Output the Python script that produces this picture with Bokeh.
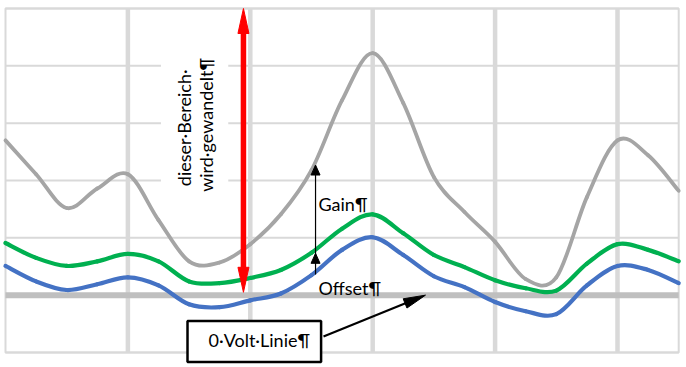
from bokeh.plotting import figure
from bokeh.models import Label, ColumnDataSource
from bokeh.embed import file_html
from bokeh.resources import INLINE

# ---------------- data ----------------
x_vals = [0.0, 0.25, 0.5, 0.75, 1.0, 1.25, 1.5, 1.75, 2.0, 2.25, 2.5, 2.75,
          3.0, 3.25, 3.5, 3.75, 4.0, 4.25, 4.5, 4.75, 5.0, 5.25, 5.5]
# amplified signal (gain applied)
gray_vals = [2.70, 2.11, 1.52, 1.86, 2.11, 1.31, 0.59, 0.57, 0.89, 1.41, 2.18, 3.40,
             4.22, 3.35, 2.06, 1.45, 0.93, 0.28, 0.31, 1.71, 2.70, 2.44, 1.82]
# signal with offset
green_vals = [0.91, 0.65, 0.51, 0.59, 0.72, 0.59, 0.24, 0.21, 0.30, 0.44, 0.74, 1.16,
              1.41, 1.08, 0.70, 0.49, 0.26, 0.12, 0.08, 0.55, 0.89, 0.79, 0.59]
# original signal
blue_vals = [0.51, 0.24, 0.09, 0.19, 0.31, 0.17, -0.16, -0.21, -0.09, 0.03, 0.35, 0.79,
             1.01, 0.70, 0.33, 0.14, -0.12, -0.28, -0.33, 0.17, 0.51, 0.44, 0.21]

x_grid_ticks = [1, 2, 3, 4, 5]
y_grid_ticks = [-1, 1, 2, 3, 4, 5]
x_min, x_max = 0.0, 5.5
y_min, y_max = -1.0, 5.0

text_range_l1 = "dieser\u00b7Bereich\u00b7"
text_range_l2 = "wird\u00b7gewandelt\u00b6"
text_gain = "Gain\u00b6"
text_offset = "Offset\u00b6"
text_zero = "0\u00b7Volt\u00b7Linie\u00b6"

# ---------------- layout constants ----------------
W, H = 686, 367
X_START, X_END = -0.0408, 5.5637
Y_START, Y_END = -1.2616, 5.1395
SX = W / (X_END - X_START)   # px per x unit
SY = H / (Y_END - Y_START)   # px per y unit

FONT = "Lato"
FS = "18px"
GRID = "#d9d9d9"

p = figure(width=W, height=H, x_range=(X_START, X_END), y_range=(Y_START, Y_END),
           output_backend="svg", toolbar_location=None,
           x_axis_location=None, y_axis_location=None,
           min_border_left=0, min_border_top=0, min_border_right=0, min_border_bottom=0)
p.background_fill_color = "white"
p.border_fill_color = "white"
p.outline_line_color = None
p.grid.visible = False

# grid lines
p.segment(x0=x_grid_ticks, y0=[y_min] * len(x_grid_ticks), x1=x_grid_ticks,
          y1=[y_max] * len(x_grid_ticks), line_color=GRID, line_width=4.5)
p.segment(x0=[x_min] * len(y_grid_ticks), y0=y_grid_ticks, x1=[x_max] * len(y_grid_ticks),
          y1=y_grid_ticks, line_color=GRID, line_width=2)
p.quad(left=[x_min], right=[x_max], bottom=[y_min], top=[y_max],
       fill_color=None, line_color=GRID, line_width=2)

# 0 volt line
p.segment(x0=[x_min], y0=[0], x1=[x_max], y1=[0], line_color="#bfbfbf", line_width=6)

# white text box behind rotated label
box_l, box_r, box_b, box_t = 1.27, 1.82, 1.35, 4.6
p.quad(left=[box_l], right=[box_r], bottom=[box_b], top=[box_t],
       fill_color="white", line_color=None)


def smooth(xs, ys):
    n = len(xs)
    d = {k: [] for k in ("x0", "y0", "x1", "y1", "cx0", "cy0", "cx1", "cy1")}
    for i in range(n - 1):
        a = max(i - 1, 0)
        b = min(i + 2, n - 1)
        d["x0"].append(xs[i]); d["y0"].append(ys[i])
        d["x1"].append(xs[i + 1]); d["y1"].append(ys[i + 1])
        d["cx0"].append(xs[i] + (xs[i + 1] - xs[a]) / 6)
        d["cy0"].append(ys[i] + (ys[i + 1] - ys[a]) / 6)
        d["cx1"].append(xs[i + 1] - (xs[b] - xs[i]) / 6)
        d["cy1"].append(ys[i + 1] - (ys[b] - ys[i]) / 6)
    return ColumnDataSource(d)


for vals, col, lw in ((gray_vals, "#a5a5a5", 3.8), (green_vals, "#00b050", 4.2),
                      (blue_vals, "#4472c4", 4.2)):
    p.bezier(x0="x0", y0="y0", x1="x1", y1="y1", cx0="cx0", cy0="cy0",
             cx1="cx1", cy1="cy1", source=smooth(x_vals, vals),
             line_color=col, line_width=lw, line_cap="round")


def head(xt, yt, xf, yf, length_px, width_px):
    # triangle with tip at (xt, yt), pointing away from (xf, yf); sizes in px
    dx = (xt - xf) * SX
    dy = (yt - yf) * SY
    L = (dx * dx + dy * dy) ** 0.5
    ux, uy = dx / L, dy / L
    nx, ny = -uy, ux
    bx, by = -ux * length_px, -uy * length_px
    pts = [(0, 0), (bx + nx * width_px / 2, by + ny * width_px / 2),
           (bx - nx * width_px / 2, by - ny * width_px / 2)]
    return [xt + px_ / SX for px_, _ in pts], [yt + py_ / SY for _, py_ in pts]


# red double arrow
red_x, red_y0, red_y1 = 1.944, 0.05, 5.0
red_head_len, red_head_w = 25, 11
p.segment(x0=[red_x], y0=[red_y0 + red_head_len / SY * 0.8], x1=[red_x],
          y1=[red_y1 - red_head_len / SY * 0.8], line_color="#ff0000", line_width=5.5)
for yt, yf in ((red_y1, red_y0), (red_y0, red_y1)):
    hx, hy = head(red_x, yt, red_x, yf, red_head_len, red_head_w)
    p.patch(hx, hy, fill_color="#ff0000", line_color="#ff0000", line_width=1)

# gain / offset arrow
g_x, g_blue, g_green, g_gray = 2.533, 0.36, 0.73, 2.27
p.segment(x0=[g_x], y0=[g_blue], x1=[g_x], y1=[g_gray - 5 / SY],
          line_color="black", line_width=1.2)
for yt, yf in ((g_green, g_blue), (g_gray, g_green)):
    hx, hy = head(g_x, yt, g_x, yf, 10, 9)
    p.patch(hx, hy, fill_color="black", line_color="black", line_width=1)

# arrow from label box to 0 volt line
a_x0, a_y0, a_x1, a_y1 = 2.598, -0.72, 3.431, 0.0
a_len = 22
ddx, ddy = (a_x1 - a_x0) * SX, (a_y1 - a_y0) * SY
dl = (ddx * ddx + ddy * ddy) ** 0.5
p.segment(x0=[a_x0], y0=[a_y0], x1=[a_x1 - ddx / dl * a_len * 0.8 / SX],
          y1=[a_y1 - ddy / dl * a_len * 0.8 / SY], line_color="black", line_width=2.2)
hx, hy = head(a_x1, a_y1, a_x0, a_y0, a_len, 10)
p.patch(hx, hy, fill_color="black", line_color="black", line_width=1)

# texts
p.add_layout(Label(x=1.458, y=2.92, text=text_range_l1, angle=90, angle_units="deg",
                   text_align="center", text_baseline="middle", text_font=FONT,
                   text_font_size=FS, text_color="black"))
p.add_layout(Label(x=1.638, y=2.97, text=text_range_l2, angle=90, angle_units="deg",
                   text_align="center", text_baseline="middle", text_font=FONT,
                   text_font_size=FS, text_color="black"))
p.add_layout(Label(x=2.557, y=1.59, text=text_gain, text_align="left",
                   text_baseline="alphabetic", text_font=FONT, text_font_size=FS,
                   text_color="black"))
p.add_layout(Label(x=2.557, y=0.12, text=text_offset, text_align="left",
                   text_baseline="alphabetic", text_font=FONT, text_font_size=FS,
                   text_color="black"))
p.add_layout(Label(x=1.487, y=-0.808, text=text_zero, text_align="left",
                   text_baseline="alphabetic", text_font=FONT, text_font_size=FS,
                   text_color="black", background_fill_color="white",
                   border_line_color="black", border_line_width=2.5,
                   padding=dict(left=21, right=11, top=8, bottom=11)))

open("out.html", "w").write(file_html(p, INLINE))
